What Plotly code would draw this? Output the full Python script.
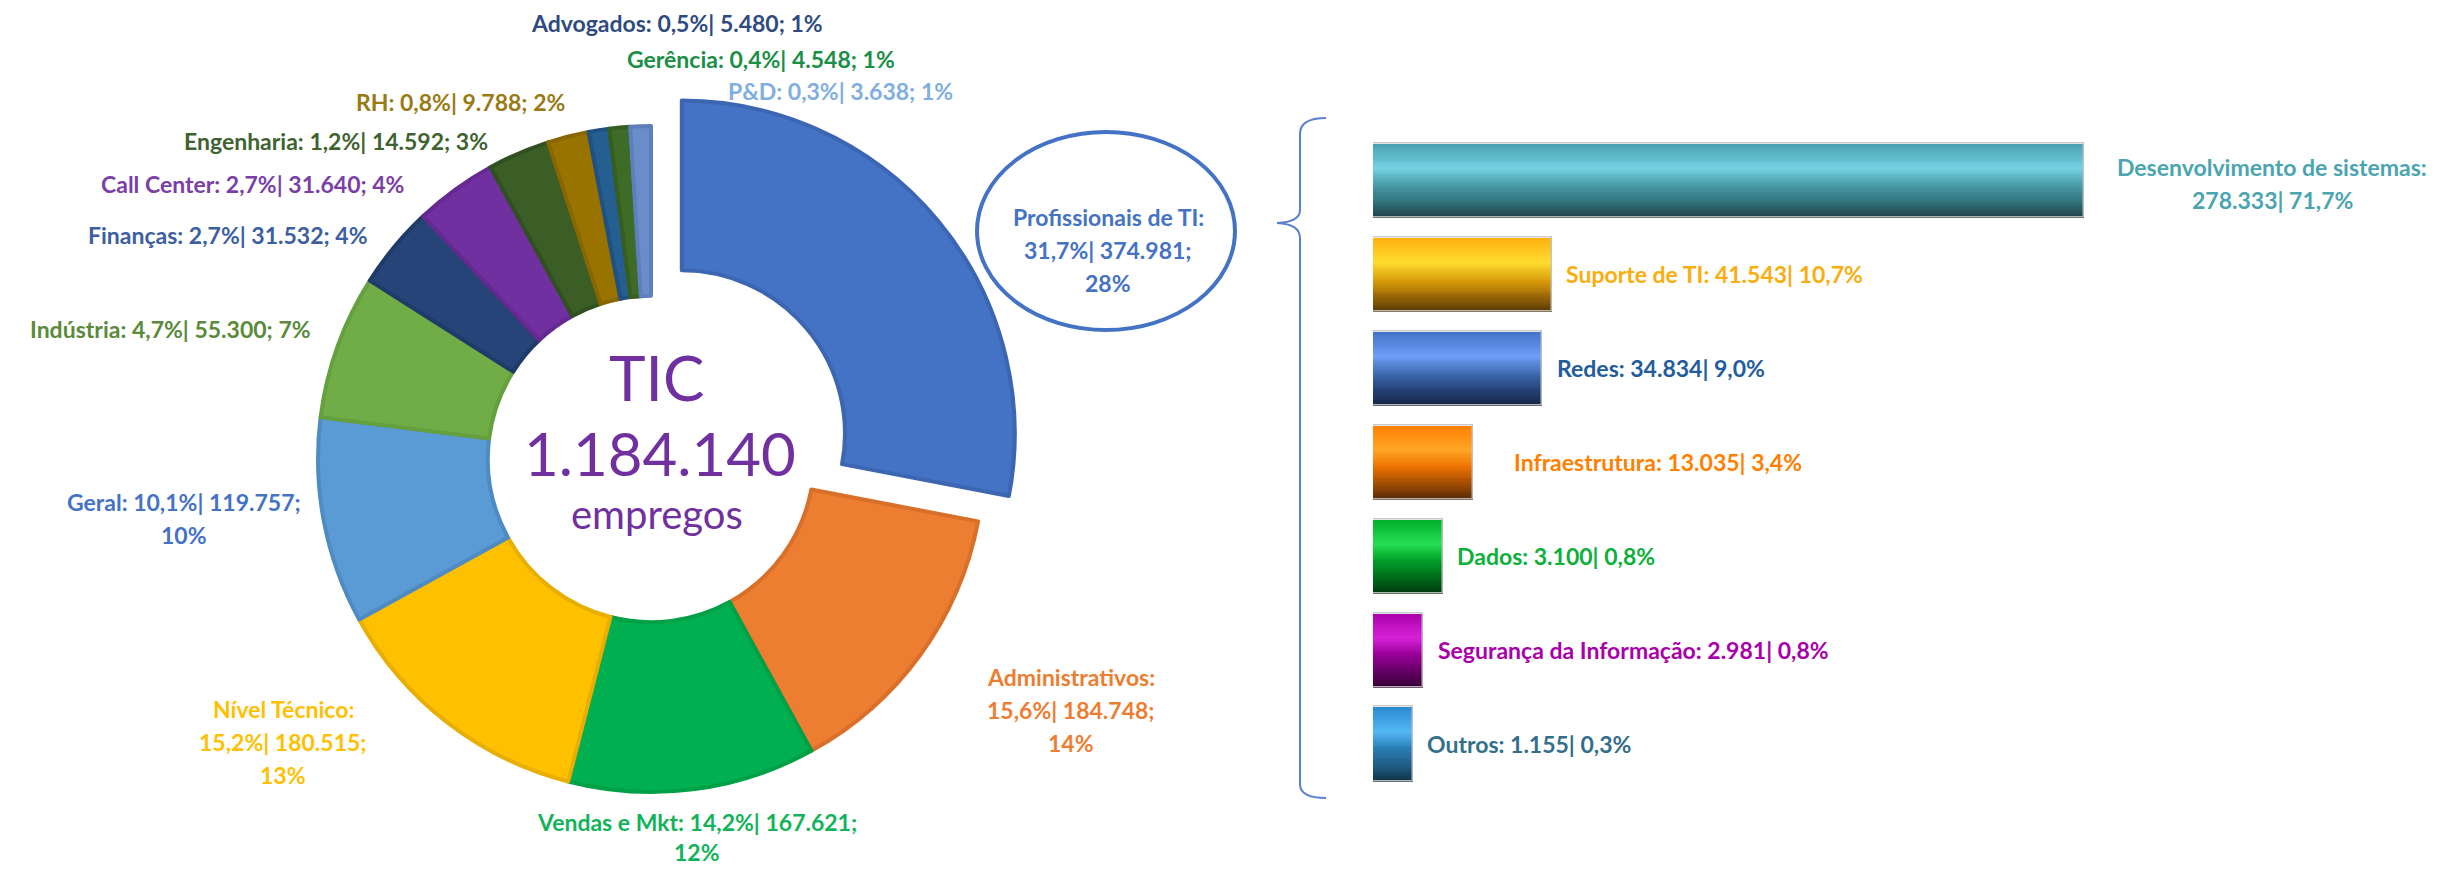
import plotly.graph_objects as go

# ---------------- data ----------------
pie_labels = ["Profissionais de TI", "Administrativos", "Vendas e Mkt", "Nível Técnico", "Geral",
              "Indústria", "Finanças", "Call Center", "Engenharia", "RH", "Advogados", "Gerência", "P&D"]
pie_jobs = [374981, 184748, 167621, 180515, 119757, 55300, 31532, 31640, 14592, 9788, 5480, 4548, 3638]
pie_pct = [31.7, 15.6, 14.2, 15.2, 10.1, 4.7, 2.7, 2.7, 1.2, 0.8, 0.5, 0.4, 0.3]
pie_share = [28, 14, 12, 13, 10, 7, 4, 4, 3, 2, 1, 1, 1]
total_jobs = 1184140

bar_labels = ["Desenvolvimento de sistemas", "Suporte de TI", "Redes", "Infraestrutura", "Dados",
              "Segurança da Informação", "Outros"]
bar_jobs = [278333, 41543, 34834, 13035, 3100, 2981, 1155]
bar_pct = [71.7, 10.7, 9.0, 3.4, 0.8, 0.8, 0.3]
# bar lengths as drawn in the reference (not to scale with bar_jobs), same units
bar_drawn = [278333, 70070, 66160, 39150, 27400, 19570, 15660]

# ---------------- styles ----------------
W, H = 2453, 870
FONT = "Lato"
LBL = 23


def px(x):
    return x / W


def py(y):
    return 1 - y / H


def br_int(v):
    return f"{v:,}".replace(",", ".")


def br_pct(p):
    return f"{p:.1f}".replace(".", ",")


def hex2rgb(h):
    h = h.lstrip('#')
    return tuple(int(h[i:i + 2], 16) for i in (0, 2, 4))


def grad(stops, t):
    for (t0, c0), (t1, c1) in zip(stops, stops[1:]):
        if t <= t1:
            f = (t - t0) / (t1 - t0) if t1 > t0 else 0
            a, b = hex2rgb(c0), hex2rgb(c1)
            return "rgb(%d,%d,%d)" % tuple(round(a[i] + (b[i] - a[i]) * f) for i in range(3))
    return stops[-1][1]


slice_fill = ["#4472C4", "#ED7D31", "#00B050", "#FFC000", "#5B9BD5", "#70AD47", "#264478",
              "#7030A0", "#3B5E26", "#997300", "#255E91", "#3E6B25", "#6A8CC8"]
slice_edge = ["#3C66B2", "#D8702A", "#00A046", "#E8AE00", "#4F8BC3", "#64A03E", "#1F3B6A",
              "#642A90", "#31501F", "#886600", "#1F5182", "#355E1F", "#5E7FBC"]
label_color = ["#4472C4", "#ED7D31", "#12B35A", "#FFC000", "#4472C4", "#5A8A3A", "#3B5FA0",
               "#7B3FA8", "#3F6330", "#9A7A14", "#2E4B7F", "#1A8F47", "#7FAEE0"]

# label placement: centre x, y of first line (px), line grouping, line spacing (px)
label_pos = {
    "Profissionais de TI": (1108, 217, 3, 33),
    "Administrativos": (1071, 677, 3, 33),
    "Vendas e Mkt": (697, 822, 2, 30),
    "Nível Técnico": (283, 709, 3, 33),
    "Geral": (184, 502, 2, 33),
    "Indústria": (170, 329, 1, 33),
    "Finanças": (228, 235, 1, 33),
    "Call Center": (252, 184, 1, 33),
    "Engenharia": (336, 141, 1, 33),
    "RH": (460, 102, 1, 33),
    "Advogados": (677, 23, 1, 33),
    "Gerência": (761, 59, 1, 33),
    "P&D": (840, 91, 1, 33),
}
LINE = 33

bar_stops = [
    [(0, "#47A0B0"), (0.33, "#74D2E2"), (0.55, "#4A9BA8"), (0.8, "#2F6F78"), (1, "#1E3C44")],
    [(0, "#FDB00F"), (0.33, "#FFDC30"), (0.6, "#D69808"), (0.8, "#966408"), (1, "#553805")],
    [(0, "#4272C8"), (0.33, "#6D9EF5"), (0.6, "#3A63A8"), (0.8, "#243F72"), (1, "#172446")],
    [(0, "#FF8000"), (0.33, "#FFA626"), (0.55, "#EE7200"), (0.8, "#9C4A05"), (1, "#552805")],
    [(0, "#00AC2C"), (0.33, "#24E052"), (0.55, "#00A02A"), (0.8, "#006818"), (1, "#00380C")],
    [(0, "#A800A8"), (0.33, "#D822D8"), (0.55, "#990099"), (0.8, "#600060"), (1, "#360036")],
    [(0, "#2A8AD0"), (0.33, "#55B8F7"), (0.55, "#2A7EB5"), (0.8, "#1E5A80"), (1, "#123044")],
]
bar_label_color = ["#4AA5B0", "#F9AE0E", "#225C9C", "#FF7F00", "#0DB03A", "#AA00AA", "#336E8A"]
bar_label_gap = [0, 12, 13, 39, 12, 13, 12]

fig = go.Figure()

# ---------------- donut ----------------
CX, CY, R = 651, 459, 333
PULL = 0.12
S = R * (1 + PULL)
fig.add_trace(go.Pie(
    values=pie_share, labels=pie_labels, customdata=pie_jobs,
    sort=False, direction="clockwise", rotation=0, hole=0.49,
    pull=[PULL] + [0] * (len(pie_share) - 1),
    textinfo="none", showlegend=False,
    marker=dict(colors=slice_fill, line=dict(color=slice_edge, width=4)),
    domain=dict(x=[px(CX - S), px(CX + S)], y=[py(CY + S), py(CY - S)]),
    hovertemplate="%{label}: %{customdata}<extra></extra>",
))

annotations = []
for i, name in enumerate(pie_labels):
    a = f"{name}:"
    b = f"{br_pct(pie_pct[i])}%| {br_int(pie_jobs[i])};"
    c = f"{pie_share[i]}%"
    cx, y0, n, sp = label_pos[name]
    if n == 1:
        lines = [f"{a} {b} {c}"]
    elif n == 2:
        lines = [f"{a} {b}", c]
    else:
        lines = [a, b, c]
    for k, t in enumerate(lines):
        annotations.append(dict(x=px(cx), y=py(y0 + k * sp), xref="paper", yref="paper",
                                text=t, showarrow=False, xanchor="center", yanchor="middle",
                                font=dict(family=FONT, size=LBL, color=label_color[i], weight="bold")))

centre_col = "#7030A0"
annotations += [
    dict(x=px(656), y=py(377), text="TIC", font=dict(family=FONT, size=62, color=centre_col)),
    dict(x=px(660), y=py(453), text=br_int(total_jobs), font=dict(family=FONT, size=60, color=centre_col)),
    dict(x=px(657), y=py(514), text="empregos", font=dict(family=FONT, size=40, color=centre_col)),
]
for a in annotations[-3:]:
    a.update(xref="paper", yref="paper", showarrow=False, xanchor="center", yanchor="middle")

# ---------------- bars ----------------
n_bar = len(bar_drawn)
BW = 0.79
K = 40
step = BW / K
ypos = list(range(n_bar))
for k in range(K):
    t = (k + 0.5) / K
    w = step if k == K - 1 else step * 1.6
    fig.add_trace(go.Bar(
        x=bar_drawn, y=ypos, orientation="h", xaxis="x2", yaxis="y2",
        width=w, offset=-BW / 2 + k * step,
        marker=dict(color=[grad(s, t) for s in bar_stops], line=dict(width=0)),
        showlegend=False, hoverinfo="skip",
    ))
fig.add_trace(go.Bar(
    x=bar_drawn, y=ypos, orientation="h", xaxis="x2", yaxis="y2",
    width=BW, offset=-BW / 2, customdata=bar_jobs, text=bar_labels, textposition="none",
    marker=dict(color="rgba(0,0,0,0)", line=dict(color="rgba(195,195,195,0.9)", width=1.5)),
    showlegend=False, hovertemplate="%{text}: %{customdata}<extra></extra>",
))

BAR_X0, BAR1_END = 1373, 2084
x2max = bar_drawn[0] * (W - BAR_X0) / (BAR1_END - BAR_X0)

for i, name in enumerate(bar_labels):
    if i == 0:
        for k, t in enumerate([f"{name}:", f"{br_int(bar_jobs[i])}| {br_pct(bar_pct[i])}%"]):
            annotations.append(dict(x=px(2272), y=py(167 + k * LINE), xref="paper", yref="paper",
                                    text=t, showarrow=False, xanchor="center", yanchor="middle",
                                    font=dict(family=FONT, size=LBL, color=bar_label_color[i], weight="bold")))
    else:
        annotations.append(dict(x=bar_drawn[i], y=i, xref="x2", yref="y2", xshift=bar_label_gap[i],
                                text=f"{name}: {br_int(bar_jobs[i])}| {br_pct(bar_pct[i])}%",
                                showarrow=False, xanchor="left", yanchor="middle",
                                font=dict(family=FONT, size=LBL, color=bar_label_color[i], weight="bold")))

# ---------------- shapes: ellipse + brace ----------------
shapes = [
    dict(type="circle", xref="paper", yref="paper",
         x0=px(1106 - 129), x1=px(1106 + 129), y0=py(231 + 99), y1=py(231 - 99),
         line=dict(color="#4472C4", width=4), fillcolor="rgba(0,0,0,0)"),
]
brace_pts = [
    ("M", 1326, 118), ("Q", 1300, 118), ("", 1300, 134), ("L", 1300, 210),
    ("Q", 1300, 222), ("", 1277, 223), ("Q", 1300, 224), ("", 1300, 238),
    ("L", 1300, 784), ("Q", 1300, 798), ("", 1326, 798),
]
path = " ".join(f"{c} {px(x):.5f},{py(y):.5f}".strip() for c, x, y in brace_pts)
shapes.append(dict(type="path", xref="paper", yref="paper", path=path,
                   line=dict(color="#5B80D0", width=2)))

fig.update_layout(
    width=W, height=H, autosize=False,
    margin=dict(l=0, r=0, t=0, b=0),
    paper_bgcolor="white", plot_bgcolor="rgba(0,0,0,0)",
    barmode="overlay", bargap=0,
    xaxis2=dict(domain=[px(BAR_X0), 1], range=[0, x2max], visible=False, anchor="y2", fixedrange=True),
    yaxis2=dict(domain=[py(791), py(133.5)], range=[n_bar - 0.5, -0.5], visible=False, anchor="x2",
                fixedrange=True),
    annotations=annotations, shapes=shapes,
    font=dict(family=FONT),
)

fig.write_html("out.html", config={"displayModeBar": False},
               post_script="document.body.style.margin='0';document.body.style.overflow='hidden';")
